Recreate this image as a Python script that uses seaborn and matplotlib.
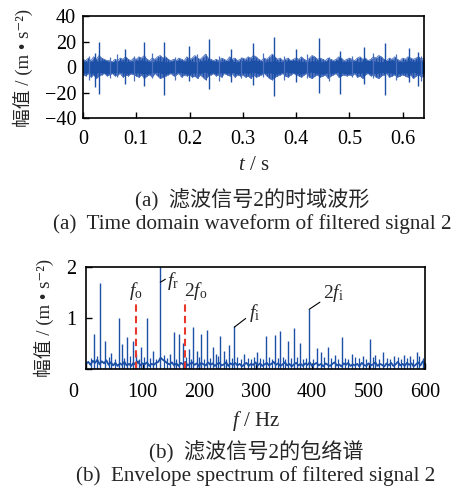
import numpy as np
import pandas as pd
import seaborn as sns
import matplotlib
matplotlib.use("Agg")
import matplotlib.pyplot as plt
from matplotlib import transforms

# ---------------- data ----------------
# (a) filtered signal 2, time domain
# outer extent of the noise band every 5 ms
t_step = 0.005
band_upper = [6, 5, 7, 5, 8, 6, 9, 7, 6, 5,
              5, 4, 6, 5, 7, 6, 8, 6, 5, 7,
              6, 8, 7, 9, 6, 5, 7, 6, 8, 9,
              7, 8, 6, 5, 6, 5, 7, 6, 5, 8,
              6, 7, 9, 7, 6, 8, 10, 7, 6, 5,
              6, 5, 7, 6, 5, 8, 6, 7, 5, 6,
              7, 6, 8, 7, 9, 8, 6, 5, 7, 6,
              8, 10, 8, 6, 7, 5, 6, 7, 5, 6,
              7, 6, 8, 6, 5, 7, 9, 8, 6, 7,
              6, 5, 7, 6, 5, 6, 8, 7, 5, 6,
              7, 6, 5, 7, 8, 6, 7, 5, 6, 8,
              7, 9, 8, 6, 5, 7, 6, 8, 6, 5,
              7, 6, 8, 7, 6, 7, 8, 6, 7]
band_lower = [-6, -7, -5, -8, -6, -9, -7, -6, -5, -7,
              -6, -5, -7, -6, -5, -8, -6, -7, -5, -6,
              -7, -8, -6, -9, -7, -6, -8, -5, -7, -9,
              -8, -7, -6, -5, -7, -6, -5, -8, -6, -7,
              -6, -8, -7, -9, -6, -8, -10, -7, -6, -5,
              -7, -6, -8, -5, -6, -7, -5, -8, -6, -7,
              -6, -8, -7, -9, -6, -8, -7, -6, -5, -7,
              -9, -10, -8, -7, -6, -5, -7, -8, -6, -5,
              -6, -7, -8, -6, -5, -8, -9, -7, -6, -8,
              -7, -6, -9, -7, -6, -5, -8, -7, -6, -7,
              -6, -7, -5, -8, -7, -9, -6, -5, -7, -6,
              -8, -9, -7, -6, -5, -8, -7, -6, -8, -7,
              -6, -7, -8, -6, -9, -7, -6, -8, -7]
# dense core of the band every 10 ms
core_step = 0.01
core_upper = [4.5, 4, 5, 4.5, 5.5, 4, 4.5, 5, 4, 4.5,
              5, 5.5, 4.5, 4, 5, 4.5, 4, 5, 5.5, 4.5,
              5, 4, 4.5, 5.5, 5, 4.5, 4, 5, 4.5, 4,
              5, 4.5, 5.5, 5, 4, 4.5, 5, 4, 4.5, 5.5,
              5, 4.5, 4, 5, 4.5, 4, 5, 4.5, 5.5, 4,
              4.5, 5, 4, 5.5, 5, 4.5, 4, 5, 5.5, 4.5,
              4, 5, 4.5, 5, 4.5]
core_lower = [-5, -4.5, -5.5, -4, -5, -5.5, -4.5, -4, -5, -5.5,
              -4.5, -5, -5.5, -4.5, -4, -5.5, -5, -4.5, -4, -5,
              -5.5, -4.5, -5, -4, -5.5, -5, -4.5, -5, -4, -5.5,
              -4.5, -5, -4, -5.5, -5, -4.5, -5.5, -5, -4, -4.5,
              -5, -5.5, -4.5, -4, -5, -5.5, -4.5, -5, -4, -5,
              -5.5, -4.5, -5, -4, -5.5, -5, -4.5, -4, -5, -5.5,
              -4.5, -5, -4, -5.5, -5]
# impulses in the waveform
spike_t = [0.0225, 0.030, 0.079, 0.1145, 0.1527, 0.199, 0.237, 0.277, 0.320,
           0.3585, 0.400, 0.4436, 0.482, 0.527, 0.566, 0.611, 0.628]
spike_hi = [11, 20, 14, 20, 20, 16.5, 22, 14, 18.7, 23.5, 14, 22.4, 12.5, 16, 19, 14.7, 12]
spike_lo = [-16, -21.5, -13, -15, -22, -11, -17.6, -12, -14, -23, -12, -20, -21, -13, -22, -12, -15]
# smaller bursts between the impulses
burst_t = [0.012, 0.05, 0.064, 0.095, 0.13, 0.172, 0.214, 0.255, 0.296, 0.338,
           0.378, 0.42, 0.462, 0.505, 0.545, 0.588, 0.635]
burst_hi = [9, 8, 10, 9, 11, 8, 10, 9, 8, 11, 9, 10, 8, 9, 11, 10, 9]
burst_lo = [-10, -9, -8, -11, -9, -10, -8, -11, -9, -8, -10, -9, -11, -8, -9, -10, -11]

# (b) envelope spectrum: noise floor every 4 Hz and spectral lines
f_step = 4
floor_amp = [0.10, 0.14, 0.08, 0.16, 0.12, 0.18, 0.09, 0.15, 0.11, 0.17,
             0.08, 0.13, 0.07, 0.12, 0.06, 0.11, 0.08, 0.14, 0.07, 0.10,
             0.06, 0.12, 0.08, 0.15, 0.07, 0.11, 0.09, 0.13, 0.06, 0.10,
             0.08, 0.12, 0.14, 0.22, 0.18, 0.15, 0.11, 0.09, 0.13, 0.07,
             0.11, 0.06, 0.12, 0.09, 0.14, 0.07, 0.10, 0.13, 0.08, 0.11,
             0.06, 0.12, 0.09, 0.07, 0.13, 0.08, 0.11, 0.06, 0.10, 0.12,
             0.07, 0.09, 0.13, 0.06, 0.11, 0.08, 0.12, 0.07, 0.10, 0.05,
             0.09, 0.12, 0.06, 0.10, 0.08, 0.13, 0.07, 0.11, 0.06, 0.09,
             0.12, 0.07, 0.10, 0.14, 0.08, 0.11, 0.06, 0.09, 0.13, 0.07,
             0.10, 0.05, 0.09, 0.12, 0.07, 0.10, 0.06, 0.11, 0.08, 0.13,
             0.06, 0.09, 0.12, 0.07, 0.10, 0.05, 0.11, 0.08, 0.06, 0.10,
             0.13, 0.07, 0.09, 0.05, 0.11, 0.08, 0.12, 0.06, 0.09, 0.07,
             0.10, 0.05, 0.12, 0.08, 0.06, 0.11, 0.07, 0.09, 0.13, 0.06,
             0.10, 0.08, 0.05, 0.11, 0.07, 0.12, 0.06, 0.09, 0.14, 0.07,
             0.10, 0.06, 0.12, 0.08, 0.11, 0.05, 0.09, 0.13, 0.07, 0.15,
             0.10]
line_f = [14.7, 25.3, 34, 45, 58.4, 63.7, 73, 82.6, 89, 98, 107.5, 118, 131.5,
          148, 155, 165, 171, 182, 190, 196, 204, 214, 224, 230, 238, 244, 253,
          262.5, 280, 302, 318, 334, 343, 358, 368, 379, 395, 409, 416, 429, 440,
          452.5, 470, 490, 502, 512, 526, 545, 562, 573, 585, 596]
line_amp = [0.69, 1.69, 0.54, 0.32, 0.99, 0.49, 0.63, 0.54, 0.30, 0.44, 0.99, 0.35, 2.05,
            0.30, 0.73, 0.69, 0.51, 0.40, 0.82, 0.35, 0.69, 0.76, 0.43, 0.30, 0.64, 0.35, 0.47,
            0.84, 0.30, 0.34, 0.64, 0.67, 0.75, 0.54, 0.80, 0.51, 1.18, 0.41, 0.34, 0.43, 0.28,
            0.63, 0.30, 0.25, 0.59, 0.27, 0.33, 0.26, 0.28, 0.25, 0.33, 0.22]
# small lines sitting on the floor
ripple_f = [8, 20, 40, 52, 68, 78, 93, 103, 113, 124, 138, 143, 160, 177, 186,
            200, 209, 219, 234, 248, 258, 268, 274, 286, 292, 297, 308, 313, 324,
            329, 339, 348, 353, 363, 374, 384, 389, 402, 422, 434, 446, 458, 464,
            476, 484, 496, 508, 518, 532, 538, 552, 557, 568, 579, 590]
ripple_amp = [0.22, 0.26, 0.24, 0.2, 0.22, 0.25, 0.2, 0.24, 0.22, 0.2, 0.28, 0.22,
              0.2, 0.24, 0.2, 0.23, 0.2, 0.22, 0.25, 0.2, 0.22, 0.24, 0.2, 0.22,
              0.2, 0.24, 0.21, 0.2, 0.23, 0.2, 0.22, 0.24, 0.2, 0.21, 0.23, 0.2,
              0.22, 0.2, 0.24, 0.21, 0.2, 0.22, 0.2, 0.24, 0.21, 0.2, 0.23, 0.2,
              0.22, 0.2, 0.24, 0.2, 0.22, 0.2, 0.26]

# characteristic frequencies and marked peaks
f_o = 88
f_r_peak, f_i_peak, f_2i_peak = 131.5, 262.5, 395
marker_top = 1.35

# ---------------- style ----------------
sns.set_theme(style="ticks")
plt.rcParams["font.family"] = ["Liberation Serif", "Noto Sans CJK SC", "DejaVu Serif"]
plt.rcParams["mathtext.fontset"] = "custom"
plt.rcParams["mathtext.rm"] = "Liberation Serif"
plt.rcParams["mathtext.it"] = "Liberation Serif:italic"
plt.rcParams["axes.unicode_minus"] = True

blue = "#1c50a6"
fringe = "#4a70bd"
red = "#e8382c"
tick_fs = 14.5
label_fs = 15
ylabel_fs = 13.5
cap_fs = 15.2
ann_fs = 14
ylabel_text = "幅值 / (m • s⁻²)"

fig = plt.figure(figsize=(4.57, 4.88), dpi=100)
ax1 = fig.add_axes([0.1816, 0.7582, 0.7462, 0.2090])
ax2 = fig.add_axes([0.1882, 0.2439, 0.7418, 0.2090])

# ---- (a) time-domain waveform ----
t = np.arange(len(band_upper)) * t_step
tc = np.arange(len(core_upper)) * core_step
ax1.fill_between(t, band_lower, band_upper, color=fringe, lw=0)
ax1.vlines(t, band_lower, band_upper, color=blue, lw=0.7)
ax1.fill_between(tc, core_lower, core_upper, color=blue, lw=0)
wave = pd.DataFrame({"t": np.concatenate([t, t]),
                     "a": np.concatenate([band_upper, band_lower]),
                     "side": ["up"] * len(t) + ["low"] * len(t)})
sns.lineplot(data=wave, x="t", y="a", units="side", estimator=None,
             color=fringe, lw=0.6, ax=ax1)
ax1.vlines(burst_t, burst_lo, burst_hi, color=fringe, lw=0.9)
ax1.vlines(spike_t, spike_lo, spike_hi, color=blue, lw=1.0)
ax1.set_xlim(0, 0.64)
ax1.set_ylim(-40, 40)
ax1.set_xticks(np.arange(0, 0.61, 0.1))
ax1.set_xticklabels(["0", "0.1", "0.2", "0.3", "0.4", "0.5", "0.6"])
ax1.set_yticks([-40, -20, 0, 20, 40])
ax1.set_xlabel(r"$t$ / s", fontsize=label_fs, labelpad=5)
ax1.set_ylabel(ylabel_text, fontsize=ylabel_fs)
ax1.yaxis.set_label_coords(-0.148, 0.49)

# ---- (b) envelope spectrum ----
spec = pd.DataFrame({"f": np.arange(len(floor_amp)) * f_step, "amp": floor_amp})
sns.lineplot(data=spec, x="f", y="amp", color=blue, lw=1.3, ax=ax2)
ax2.vlines(ripple_f, 0, ripple_amp, color=blue, lw=0.9)
ax2.vlines(line_f, 0, line_amp, color=blue, lw=1.0)
ax2.vlines([f_o, 2 * f_o], 0, marker_top, color=red, lw=1.5,
           linestyles=(0, (3.5, 2)))
ax2.set_xlim(0, 600)
ax2.set_ylim(0, 2)
ax2.set_xticks(np.arange(0, 601, 100))
ax2.set_yticks([0, 1, 2])
ax2.set_yticklabels(["", "1", "2"])
ax2.set_xlabel(r"$f$ / Hz", fontsize=label_fs, labelpad=5)
ax2.set_ylabel(ylabel_text, fontsize=ylabel_fs)
ax2.yaxis.set_label_coords(-0.095, 0.5)

ax2.text(f_o, 1.52, r"$f_\mathrm{o}$", fontsize=ann_fs, ha="center", va="center")
ax2.text(2 * f_o + 18, 1.52, r"$2f_\mathrm{o}$", fontsize=ann_fs, ha="center", va="center")
ax2.plot([f_r_peak, f_r_peak + 9], [1.70, 1.76], color="black", lw=0.8)
ax2.text(f_r_peak + 11, 1.72, r"$f_\mathrm{r}$", fontsize=ann_fs, ha="left", va="center")
ax2.plot([f_i_peak, f_i_peak + 20], [0.82, 0.99], color="black", lw=0.8)
ax2.text(f_i_peak + 36, 1.10, r"$f_\mathrm{i}$", fontsize=ann_fs, ha="center", va="center")
ax2.plot([f_2i_peak, f_2i_peak + 19], [1.17, 1.31], color="black", lw=0.8)
ax2.text(f_2i_peak + 42, 1.49, r"$2f_\mathrm{i}$", fontsize=ann_fs, ha="center", va="center")

for ax in (ax1, ax2):
    for s in ax.spines.values():
        s.set_linewidth(1.2)
        s.set_color("black")
    ax.tick_params(direction="in", length=4, width=1, labelsize=tick_fs,
                   colors="black")
ax1.tick_params(axis="x", pad=9)
ax1.tick_params(axis="y", pad=5)
ax2.tick_params(axis="x", pad=10)
ax2.tick_params(axis="y", pad=7)

# the "0" under the spectrum sits a little left of the axis corner
lbl0 = ax2.get_xticklabels()[0]
lbl0.set_transform(lbl0.get_transform() +
                   transforms.ScaledTranslation(-0.13, 0, fig.dpi_scale_trans))

# captions
fig.text(0.552, 1 - 200 / 488, "(a)  滤波信号2的时域波形", fontsize=cap_fs,
         ha="center", va="center")
fig.text(0.552, 1 - 224 / 488, "(a)  Time domain waveform of filtered signal 2",
         fontsize=cap_fs, ha="center", va="center")
fig.text(0.56, 1 - 452 / 488, "(b)  滤波信号2的包络谱", fontsize=cap_fs,
         ha="center", va="center")
fig.text(0.56, 1 - 476 / 488, "(b)  Envelope spectrum of filtered signal 2",
         fontsize=cap_fs, ha="center", va="center")

fig.savefig("out.png", dpi=100)
